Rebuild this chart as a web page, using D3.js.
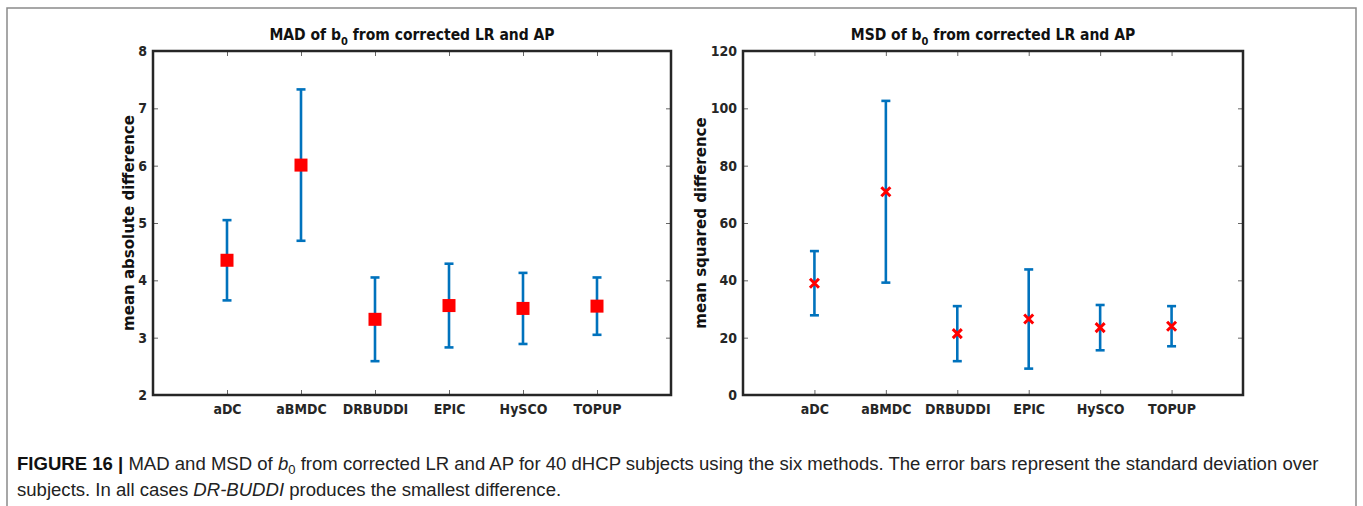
<!DOCTYPE html>
<html>
<head>
<meta charset="utf-8">
<script src="https://cdn.jsdelivr.net/npm/d3@7"></script>
<style>
  body { margin: 0; background: #fff; }
  svg { display: block; }
  .tick text { font-family: "DejaVu Sans Condensed", "DejaVu Sans", sans-serif; font-stretch: condensed; font-weight: bold; fill: #262626; }
</style>
</head>
<body>
<svg id="fig" width="1363" height="506"></svg>
<script>
var methods = ["aDC", "aBMDC", "DRBUDDI", "EPIC", "HySCO", "TOPUP"];

// MAD of b0 (mean, sd)
var madMean = [4.35, 6.01, 3.32, 3.56, 3.51, 3.55];
var madSd   = [0.70, 1.32, 0.73, 0.73, 0.62, 0.50];
var madTicks = [2, 3, 4, 5, 6, 7, 8];

// MSD of b0 (mean, sd)
var msdMean = [39.0, 70.9, 21.4, 26.5, 23.5, 24.0];
var msdSd   = [11.2, 31.7, 9.6, 17.3, 7.9, 7.0];
var msdTicks = [0, 20, 40, 60, 80, 100, 120];

var blue = "#0072BD", red = "#FF0000", axisCol = "#262626";
var svg = d3.select("#fig");

// outer frame of the figure
svg.append("rect")
  .attr("x", 7).attr("y", 8).attr("width", 1349).attr("height", 520)
  .attr("fill", "none").attr("stroke", "#8a8a8a").attr("stroke-width", 1.5);

function panel(opt){
  var x = d3.scaleLinear().domain([0, 7]).range([opt.left, opt.right])
    , y = d3.scaleLinear().domain(opt.domain).range([395, 51])
    , g = svg.append("g")
    , data = opt.mean.map(function(m, i){ return {name: methods[i], i: i + 1, m: m, sd: opt.sd[i]}; });

  // ticks on all four sides, pointing in
  var xb = g.append("g").attr("transform", "translate(0,395)")
    .call(d3.axisBottom(x).tickValues(d3.range(1, 7)).tickFormat(function(d){ return methods[d - 1]; })
      .tickSizeInner(-5).tickSizeOuter(0).tickPadding(9));
  var xt = g.append("g").attr("transform", "translate(0,51)")
    .call(d3.axisTop(x).tickValues(d3.range(1, 7)).tickFormat("").tickSizeInner(-5).tickSizeOuter(0));
  var yl = g.append("g").attr("transform", "translate(" + opt.left + ",0)")
    .call(d3.axisLeft(y).tickValues(opt.ticks).tickFormat(d3.format("d"))
      .tickSizeInner(-5).tickSizeOuter(0).tickPadding(6));
  var yr = g.append("g").attr("transform", "translate(" + opt.right + ",0)")
    .call(d3.axisRight(y).tickValues(opt.ticks).tickFormat("").tickSizeInner(-5).tickSizeOuter(0));
  [xb, xt, yl, yr].forEach(function(a){
    a.select(".domain").remove();
    a.selectAll(".tick line").attr("stroke", "#666").attr("stroke-width", 1);
    a.selectAll(".tick text").attr("font-size", 14);
  });

  g.append("rect")
    .attr("x", opt.left).attr("y", 51)
    .attr("width", opt.right - opt.left).attr("height", 344)
    .attr("fill", "none").attr("stroke", axisCol).attr("stroke-width", 2.5);

  // title
  var t = g.append("text")
    .attr("x", (opt.left + opt.right) / 2).attr("y", 40)
    .attr("text-anchor", "middle")
    .attr("font-family", "DejaVu Sans Condensed, DejaVu Sans, sans-serif")
    .attr("font-stretch", "condensed")
    .attr("font-weight", "bold").attr("font-size", 15.5).attr("fill", "#111");
  t.append("tspan").text(opt.title + " of b");
  t.append("tspan").attr("dy", 5).attr("font-size", 11).text("0");
  t.append("tspan").attr("dy", -5).text(" from corrected LR and AP");

  // y label
  g.append("text")
    .attr("transform", "translate(" + opt.ylabX + ",223) rotate(-90)")
    .attr("text-anchor", "middle")
    .attr("font-family", "DejaVu Sans, sans-serif")
    .attr("font-weight", "bold").attr("font-size", 15).attr("fill", "#111")
    .text(opt.ylabel);

  // error bars
  var eb = g.selectAll(".eb").data(data).enter().append("g").attr("class", "eb")
    .attr("stroke", blue).attr("stroke-width", 2.6).attr("fill", "none");
  eb.append("line")
    .attr("x1", function(d){ return x(d.i); }).attr("x2", function(d){ return x(d.i); })
    .attr("y1", function(d){ return y(d.m - d.sd); }).attr("y2", function(d){ return y(d.m + d.sd); });
  eb.append("line")
    .attr("x1", function(d){ return x(d.i) - 4.5; }).attr("x2", function(d){ return x(d.i) + 4.5; })
    .attr("y1", function(d){ return y(d.m - d.sd); }).attr("y2", function(d){ return y(d.m - d.sd); });
  eb.append("line")
    .attr("x1", function(d){ return x(d.i) - 4.5; }).attr("x2", function(d){ return x(d.i) + 4.5; })
    .attr("y1", function(d){ return y(d.m + d.sd); }).attr("y2", function(d){ return y(d.m + d.sd); });

  // markers
  if (opt.marker === "square") {
    g.selectAll(".mk").data(data).enter().append("rect").attr("class", "mk")
      .attr("x", function(d){ return x(d.i) - 6.5; }).attr("y", function(d){ return y(d.m) - 6.5; })
      .attr("width", 13).attr("height", 13).attr("fill", red);
  } else {
    g.selectAll(".mk").data(data).enter().append("path").attr("class", "mk")
      .attr("transform", function(d){ return "translate(" + x(d.i) + "," + y(d.m) + ")"; })
      .attr("d", "M-4.5,-4.5L4.5,4.5M-4.5,4.5L4.5,-4.5")
      .attr("stroke", red).attr("stroke-width", 3).attr("fill", "none");
  }
}

panel({left: 153, right: 671, domain: [2, 8], ticks: madTicks, mean: madMean, sd: madSd,
       title: "MAD", ylabel: "mean absolute difference", ylabX: 134, marker: "square"});
panel({left: 743, right: 1243, domain: [0, 120], ticks: msdTicks, mean: msdMean, sd: msdSd,
       title: "MSD", ylabel: "mean squared difference", ylabX: 706, marker: "x"});

// caption: condensed look, squeezed horizontally to fit
var capFont = "Liberation Sans Narrow, Liberation Sans, Arial, sans-serif";
var cap = svg.append("g");
var c1 = cap.append("text").attr("x", 0).attr("y", 470)
  .attr("font-family", capFont).attr("font-size", 18.5).attr("fill", "#222");
c1.append("tspan").attr("font-weight", "bold").attr("fill", "#111").text("FIGURE 16 | ");
c1.append("tspan").text("MAD and MSD of ");
c1.append("tspan").attr("font-style", "italic").text("b");
c1.append("tspan").attr("dy", 4).attr("font-size", 13).text("0");
c1.append("tspan").attr("dy", -4).text(" from corrected LR and AP for 40 dHCP subjects using the six methods. The error bars represent the standard deviation over");
var c2 = cap.append("text").attr("x", 0).attr("y", 496)
  .attr("font-family", capFont).attr("font-size", 18.5).attr("fill", "#222");
c2.append("tspan").text("subjects. In all cases ");
c2.append("tspan").attr("font-style", "italic").text("DR-BUDDI");
c2.append("tspan").text(" produces the smallest difference.");

var k = 1303 / c1.node().getComputedTextLength();
cap.attr("transform", "translate(17,0) scale(" + k + ",1)");
</script>
</body>
</html>
